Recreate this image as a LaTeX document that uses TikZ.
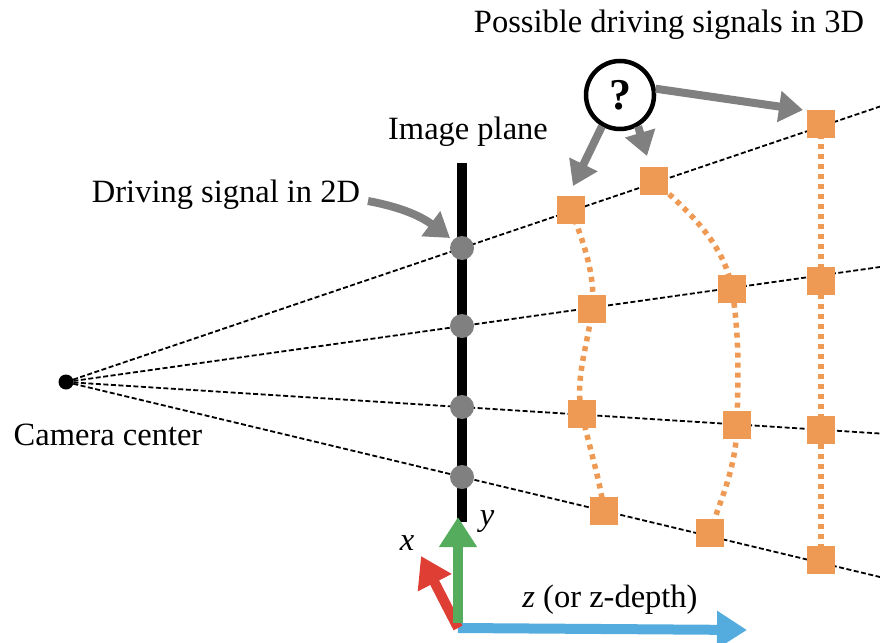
\documentclass[tikz,border=0pt]{standalone}
\usepackage{fontspec}
\setmainfont{Liberation Serif}
\usetikzlibrary{arrows.meta}
\definecolor{sqorange}{RGB}{238,154,84}
\definecolor{ptgray}{RGB}{128,128,128}
\definecolor{axgreen}{RGB}{84,172,92}
\definecolor{axred}{RGB}{222,62,52}
\definecolor{axblue}{RGB}{84,172,222}
\tikzset{
  ray/.style={line width=1.8pt, dash pattern=on 5pt off 2.5pt, black},
  imgpt/.style={circle, fill=ptgray, minimum size=24pt, inner sep=0pt},
  sq/.style={rectangle, fill=sqorange, minimum size=28pt, inner sep=0pt},
  link/.style={sqorange, line width=5.5pt, dash pattern=on 5pt off 5pt},
  pointer/.style={ptgray, line width=8pt, -{Triangle[length=24pt,width=30pt]}},
  axis/.style={line width=10pt, -{Triangle[length=30pt,width=36pt]}},
  lbl/.style={font=\fontsize{32.5}{36}\selectfont, inner sep=0pt}
}
\begin{document}
\begin{tikzpicture}[x=1pt,y=-1pt]
\useasboundingbox (0,0) rectangle (880,642);

% camera centre and the rays through the image plane
\node[circle, fill=black, minimum size=15pt, inner sep=0pt] (cam) at (66,382) {};
\coordinate (e1) at (880,106.5);
\coordinate (e2) at (880,267);
\coordinate (e3) at (880,433.5);
\coordinate (e4) at (880,577);
\foreach \i in {1,...,4} \draw[ray] (cam.center) -- (e\i);

% image plane
\coordinate (ptop) at (462,163);
\coordinate (pbot) at (462,522);
\draw[line width=10pt, black] (ptop) -- (pbot);

% 2D projections
\node[imgpt] (p1) at (462,248) {};
\node[imgpt] (p2) at (462,326) {};
\node[imgpt] (p3) at (462,407) {};
\node[imgpt] (p4) at (462,477) {};

% candidate 3D positions
\node[sq] (a1) at (571,210) {};
\node[sq] (a2) at (592,309) {};
\node[sq] (a3) at (582,414) {};
\node[sq] (a4) at (604,511) {};
\node[sq] (b1) at (654,181) {};
\node[sq] (b2) at (732,289) {};
\node[sq] (b3) at (737,425) {};
\node[sq] (b4) at (710,533) {};
\node[sq] (c1) at (821,124) {};
\node[sq] (c2) at (821,281) {};
\node[sq] (c3) at (821,430) {};
\node[sq] (c4) at (821,560) {};

\draw[link] (a1.center) .. controls (585,245) and (596,280) .. (a2.center)
            .. controls (588,345) and (574,380) .. (a3.center)
            .. controls (590,450) and (600,480) .. (a4.center);
\draw[link] (b1.center) .. controls (700,220) and (725,250) .. (b2.center)
            .. controls (740,340) and (738,380) .. (b3.center)
            .. controls (736,470) and (720,500) .. (b4.center);
\draw[link] (c1.center) -- (c2.center) -- (c3.center) -- (c4.center);
% redraw squares on top of the links
\foreach \n in {a1,a2,a3,a4,b1,b2,b3,b4,c1,c2,c3,c4}
  \fill[sqorange] (\n.south west) rectangle (\n.north east);

% the unknown depth
\node[circle, draw=black, line width=4.5pt, fill=white, minimum size=68pt, inner sep=0pt,
      font=\fontsize{44}{46}\selectfont\bfseries] (q) at (620,95) {?};
\coordinate (qa) at (573,186);
\coordinate (qb) at (647,156);
\coordinate (qc) at (803,110);
\draw[pointer] (q.240) -- (qa);
\draw[pointer] (q.300) -- (qb);
\draw[pointer] (q.10) -- (qc);

% labels
\node[lbl] (t3d) at (669,25) {Possible driving signals in 3D};
\node[lbl] (tplane) at (468,132) {Image plane};
\node[lbl] (t2d) at (226,195) {Driving signal in 2D};
\node[lbl] (tcam) at (108,435) {Camera center};
\coordinate (d2tip) at (450,238);
\draw[pointer] (368,201) .. controls (395,206) and (418,214) .. (d2tip);

% camera axes
\coordinate (o) at (458,628);
\coordinate (zx) at (747,630);
\coordinate (yy) at (458,517);
\coordinate (xx) at (421,556);
\draw[axis, axblue] (o) -- (zx);
\draw[axis, axred] (o) -- (xx);
\draw[axis, axgreen] ([yshift=5pt]o) -- (yy);
\node[lbl, font=\fontsize{32.5}{36}\selectfont\itshape] (lx) at (407,543) {x};
\node[lbl, font=\fontsize{32.5}{36}\selectfont\itshape] (ly) at (487,522) {y};
\node[lbl] (lz) at (610,600) {\textit{z} (or z-depth)};
\end{tikzpicture}
\end{document}
